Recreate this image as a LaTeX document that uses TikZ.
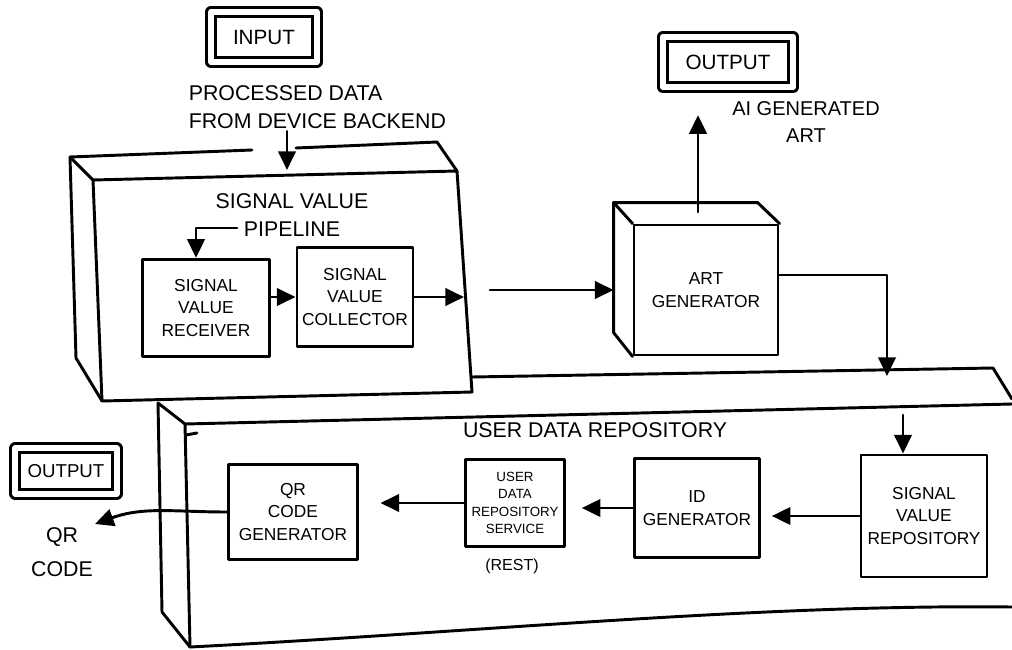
\documentclass[tikz,border=0pt]{standalone}
\usepackage{fontspec}
\setmainfont{Liberation Sans}
\usetikzlibrary{arrows.meta}

\tikzset{every picture/.style={line width=2.2pt}}
\tikzset{
  pen/.style={line width=2.2pt, line cap=round, line join=round},
  arr/.style={pen, -{Triangle[length=14pt,width=13pt]}},
  blk/.style={draw, pen, align=center, inner sep=2pt, font=\fontsize{13}{17}\selectfont},
  iobox/.style={draw, pen, double, double distance=4.5pt, align=center, inner sep=0pt, font=\fontsize{15.5}{18}\selectfont},
  lbl/.style={align=center, inner sep=1pt, font=\fontsize{16}{21}\selectfont},
}

\begin{document}
\begin{tikzpicture}[x=0.75pt,y=0.75pt,yscale=-1,xscale=1]
\path[use as bounding box] (0,0) rectangle (1012,649);

% Text Node
\node[iobox, minimum width=79pt, minimum height=38pt] (input) at (264,37) {INPUT};
% Text Node
\node[lbl, anchor=west, align=left] (procdata) at (186,107) {PROCESSED DATA\\FROM DEVICE BACKEND};

%Shape: Box (signal value pipeline)
\coordinate (pipe-fnw) at (93,180);
\coordinate (pipe-fne) at (457,171);
\coordinate (pipe-fse) at (472,392);
\coordinate (pipe-fsw) at (102,401);
\coordinate (pipe-bnw) at (70,157);
\coordinate (pipe-bne) at (437,142);
\coordinate (pipe-bsw) at (76,358);
\coordinate (pipe-gapl) at (252,150);
\coordinate (pipe-gapr) at (296,148);
\coordinate (pipe-in) at (287,170);
\draw[pen] (pipe-fnw) -- (pipe-fne) -- (pipe-fse) -- (pipe-fsw) -- cycle;
\draw[pen] (pipe-gapl) -- (pipe-bnw) -- (pipe-bsw) -- (pipe-fsw);
\draw[pen] (pipe-bnw) -- (pipe-fnw);
\draw[pen] (pipe-gapr) -- (pipe-bne) -- (pipe-fne);

%Straight Lines
\draw[arr] (procdata.south -| pipe-in) -- (pipe-in);

% Text Node
\node[lbl] (pipelbl) at (292,215) {SIGNAL VALUE\\PIPELINE};
\node[blk, minimum width=95pt, minimum height=73pt] (recv) at (206,308) {SIGNAL\\VALUE\\RECEIVER};
\node[blk, minimum width=87pt, minimum height=74pt] (coll) at (355,297) {SIGNAL\\VALUE\\COLLECTOR};

\coordinate (pipe-note) at (237,228);
\coordinate (pipe-out) at (464,297);
\draw[arr] (pipe-note) -| ([shift={(-10,0)}]recv.north);
\draw[arr] (recv.east |- coll.west) -- (coll.west);
\draw[arr] (coll.east) -- (pipe-out);

%Shape: Box (art generator)
\node[blk, minimum width=108pt, minimum height=97.5pt] (artgen) at (706,290) {ART\\GENERATOR};
\coordinate (art-bnw) at ([shift={(-19,-21)}]artgen.north west);
\draw[pen] (artgen.north west) -- (art-bnw) -- ++(144,0) -- (artgen.north east);
\draw[pen] (art-bnw) -- ++(0,130) -- (artgen.south west);

\coordinate (pipe-exit) at (490,290);
\draw[arr] (pipe-exit) -- (pipe-exit -| art-bnw);

% Text Node
\node[iobox, minimum width=98pt, minimum height=37.5pt] (outtop) at (728,62) {OUTPUT};
\node[lbl, font=\fontsize{15}{20}\selectfont] (aiart) at (806,122) {AI GENERATED\\ART};
\coordinate (art-top) at (698,212);
\draw[arr, shorten >=20pt] (art-top) -- (art-top |- outtop.south);

%Shape: Box (user data repository)
\coordinate (repo-bnw) at (158,403);
\coordinate (repo-bsw) at (162,612);
\coordinate (repo-fnw) at (185,424);
\coordinate (repo-fsw) at (190,647);
\coordinate (repo-fne) at (1012,404);
\coordinate (repo-fse) at (1012,607);
\coordinate (repo-bnh) at (472,377);
\coordinate (repo-bne) at (993,368);
\coordinate (repo-cut) at (1012,399);
\draw[pen] (repo-bnh) -- (repo-bne) -- (repo-cut);
\draw[pen] (repo-fnw) -- (repo-fne);
\draw[pen] (repo-fnw) -- (repo-fsw) .. controls (480,632) and (760,604) .. (repo-fse);
\draw[pen] (repo-bnw) -- (repo-bsw) -- (repo-fsw);
\draw[pen] (repo-bnw) -- (repo-fnw);
\draw[pen] (186,435) -- (197,433);

\coordinate (repo-in) at (887,376);
\draw[arr] ([shift={(0,-15)}]artgen.east) -| (repo-in);

% Text Node
\node[lbl] (repolbl) at (595,430) {USER DATA REPOSITORY};
\node[blk, minimum width=94.5pt, minimum height=91.5pt] (sigrepo) at (924,516) {SIGNAL\\VALUE\\REPOSITORY};
\node[blk, minimum width=94pt, minimum height=74pt] (idgen) at (697,508) {ID\\GENERATOR};
\node[blk, minimum width=74pt, minimum height=65pt, font=\fontsize{10}{13}\selectfont] (usersvc) at (515,503) {USER\\DATA\\REPOSITORY\\SERVICE};
\node[lbl, font=\fontsize{12}{14}\selectfont] (rest) at (512,566) {(REST)};
\node[blk, minimum width=97pt, minimum height=71pt] (qrgen) at (293,512) {QR\\CODE\\GENERATOR};

\coordinate (repo-drop) at (903,415);
\draw[arr] (repo-drop) -- (repo-drop |- sigrepo.north);
\draw[arr, shorten >=8pt] (sigrepo.west) -- (sigrepo.west -| idgen.east);
\draw[arr, shorten >=12pt] (idgen.west) -- (idgen.west -| usersvc.east);
\draw[arr, shorten >=16pt] (usersvc.west) -- (usersvc.west -| qrgen.east);

% Text Node
\node[iobox, minimum width=76pt, minimum height=34pt, font=\fontsize{14}{17}\selectfont] (outqr) at (66,471) {OUTPUT};
\node[lbl, font=\fontsize{16}{26}\selectfont] (qrcode) at (62,552) {QR\\CODE};
\coordinate (qr-tip) at (95,524);
\draw[arr] (qrgen.west) to[out=180,in=-20] (qr-tip);

\end{tikzpicture}
\end{document}
